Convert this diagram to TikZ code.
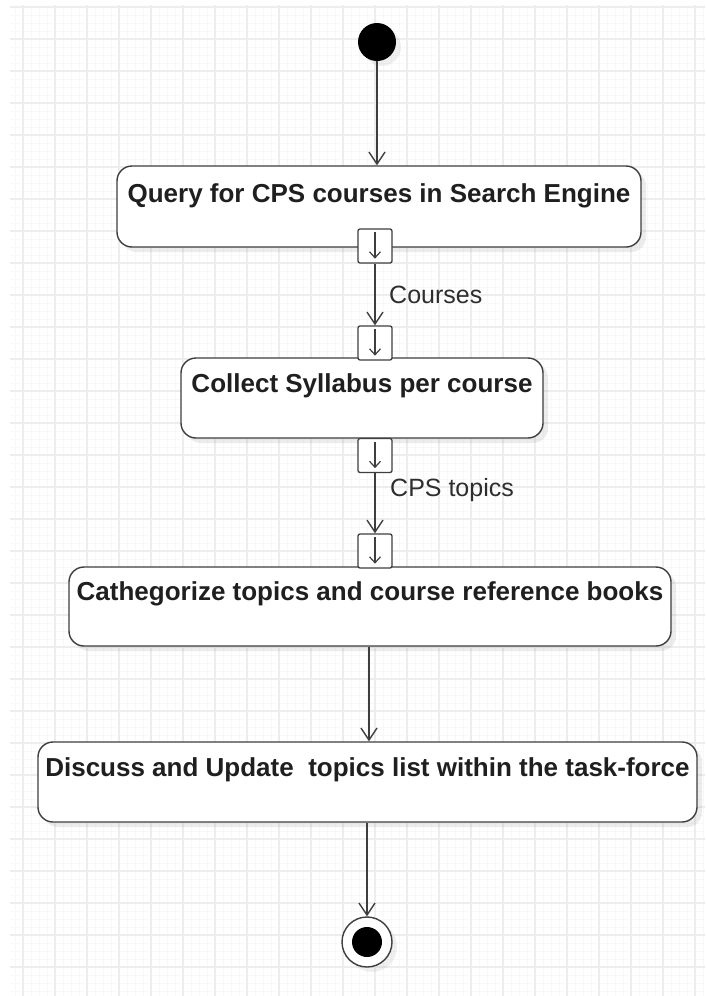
\documentclass[tikz,border=0pt]{standalone}
\usepackage{fontspec}
\setmainfont{Liberation Sans}
\usetikzlibrary{arrows.meta,shadows,calc}
\definecolor{ln}{HTML}{3E3E3E}
\definecolor{gmaj}{HTML}{EDEDED}
\definecolor{gmin}{HTML}{F8F8F8}
\begin{document}
\begin{tikzpicture}[x=1pt,y=-1pt,
  act/.style={draw=ln, line width=1.4pt, rounded corners=15pt, fill=white, inner sep=0pt,
    drop shadow={opacity=0.15, shadow xshift=5pt, shadow yshift=-5pt}},
  pinbox/.style={draw=ln, line width=1.3pt, rounded corners=2pt, fill=white, minimum size=34pt, inner sep=0pt},
  flow/.style={draw=ln, line width=1.4pt, -{Straight Barb[length=12pt,width=16pt,line width=1.4pt]}},
  pinar/.style={draw=ln, line width=1.2pt, -{Straight Barb[length=6pt,width=11pt,line width=1.2pt]}},
  btext/.style={font=\fontsize{26}{30}\selectfont\bfseries, text=black!88, anchor=base, inner sep=0pt},
  ltext/.style={font=\fontsize{25}{30}\selectfont, text=black!82, anchor=base west, inner sep=0pt},
  minorg/.style={draw=gmin, line width=0.6pt},
  majorg/.style={draw=gmaj, line width=1.1pt}
]
\useasboundingbox (0,0) rectangle (705,996);
\fill[white] (0,0) rectangle (705,996);
% grid
\foreach \x in {15,23,...,703} \draw[minorg] (\x,5) -- (\x,996);
\foreach \y in {15,23,...,995} \draw[minorg] (10,\y) -- (705,\y);
\foreach \x in {23,55,...,703} \draw[majorg] (\x,5) -- (\x,996);
\foreach \y in {7,39,...,995} \draw[majorg] (10,\y) -- (705,\y);

% start / end
\node[circle, fill=black, minimum size=38pt, inner sep=0pt,
  drop shadow={opacity=0.12, shadow xshift=5pt, shadow yshift=-5pt}] (start) at (377,42) {};
\node[circle, draw=ln, line width=1.4pt, fill=white, minimum size=50pt, inner sep=0pt,
  drop shadow={opacity=0.12, shadow xshift=5pt, shadow yshift=-5pt}] (end) at (367,942) {};
\node[circle, fill=black, minimum size=30pt, inner sep=0pt] (endin) at (end) {};

% activities
\node[act, minimum width=524pt, minimum height=81pt] (b1) at (379,206.5) {};
\node[act, minimum width=362pt, minimum height=80pt] (b2) at (362,398) {};
\node[act, minimum width=602pt, minimum height=79pt] (b3) at (370,606.5) {};
\node[act, minimum width=659pt, minimum height=80pt] (b4) at (367.5,782) {};

\node[btext] (t1) at ($(b1.north)+(0,37)$) {Query for CPS courses in Search Engine};
\node[btext] (t2) at ($(b2.north)+(0,35)$) {Collect Syllabus per course};
\node[btext] (t3) at ($(b3.north)+(0,34)$) {Cathegorize topics and course reference books};
\node[btext] (t4) at ($(b4.north)+(0,35)$) {Discuss and Update\ \ topics list within the task-force};

% pins
\node[pinbox] (p1) at (375,246) {};
\node[pinbox] (p2) at (375,343) {};
\node[pinbox] (p3) at (375,455.5) {};
\node[pinbox] (p4) at (375,551) {};
\foreach \p in {p1,p2,p3,p4}
  \draw[pinar] ([yshift=-4pt]\p.north) -- ([yshift=5pt]\p.south);

% flows
\draw[flow] (start) -- (start |- b1.north);
\draw[flow] (p1.south) -- (p2.north);
\draw[flow] (p3.south) -- (p4.north);
\draw[flow] (b3.south -| 369,0) -- (b4.north -| 369,0);
\draw[flow] (end |- b4.south) -- (end.north);

\node[ltext] (lc) at (389,303) {Courses};
\node[ltext] (lt) at (390,496) {CPS topics};
\end{tikzpicture}
\end{document}
